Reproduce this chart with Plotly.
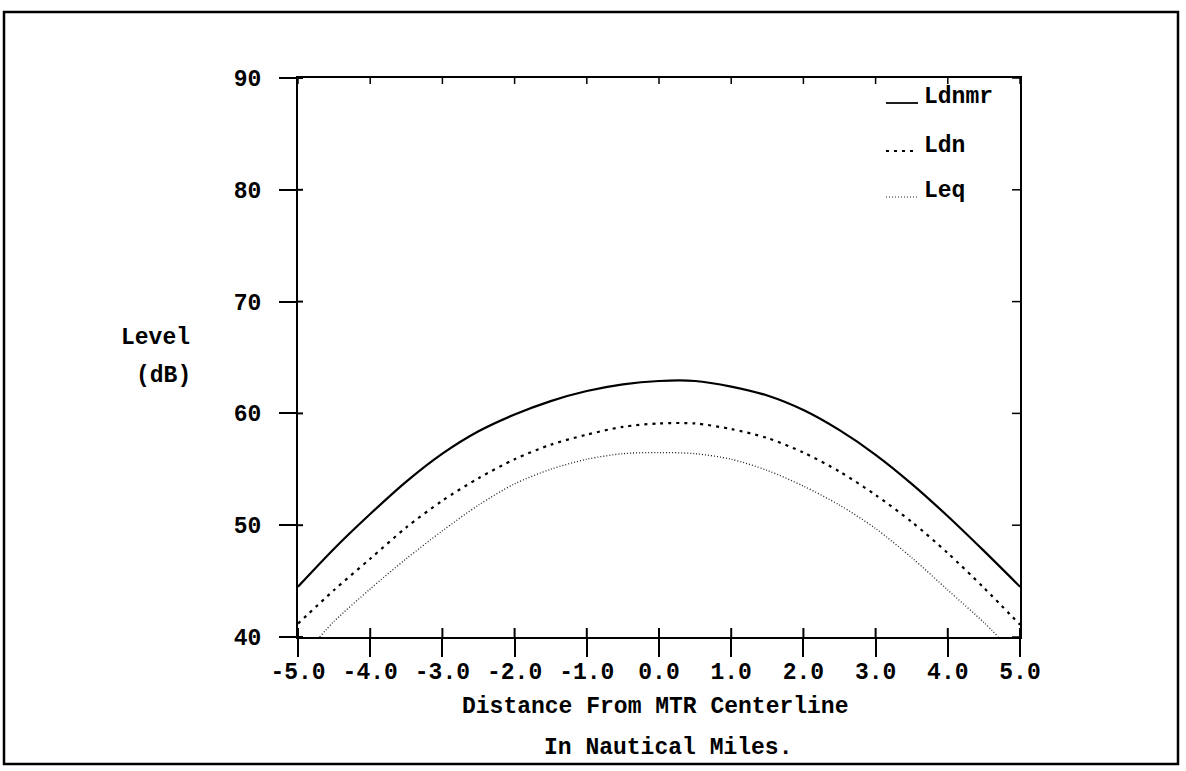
import plotly.graph_objects as go

# ---- data ----
distance = [-5.0, -4.5, -4.0, -3.5, -3.0, -2.5, -2.0, -1.5, -1.0, -0.5, 0.0,
            0.5, 1.0, 1.5, 2.0, 2.5, 3.0, 3.5, 4.0, 4.5, 5.0]
ldnmr = [44.5, 47.9, 51.0, 53.9, 56.4, 58.4, 59.9, 61.1, 62.0, 62.6, 62.9,
         62.9, 62.4, 61.6, 60.3, 58.5, 56.3, 53.7, 50.8, 47.7, 44.5]
ldn = [41.2, 44.2, 47.0, 49.8, 52.2, 54.2, 55.9, 57.2, 58.1, 58.8, 59.1,
       59.1, 58.6, 57.8, 56.5, 54.8, 52.7, 50.3, 47.5, 44.4, 41.1]
leq_x = [-4.7, -4.5, -4.0, -3.5, -3.0, -2.5, -2.0, -1.5, -1.0, -0.5, 0.0,
         0.5, 1.0, 1.5, 2.0, 2.5, 3.0, 3.5, 4.0, 4.5, 4.7]
leq = [40.0, 41.4, 44.3, 47.0, 49.5, 51.8, 53.7, 55.0, 55.9, 56.4, 56.5,
       56.4, 55.9, 54.9, 53.5, 51.8, 49.7, 47.1, 44.2, 41.3, 40.0]

x_ticks = [-5, -4, -3, -2, -1, 0, 1, 2, 3, 4, 5]
y_ticks = [40, 50, 60, 70, 80, 90]
series_names = ["Ldnmr", "Ldn", "Leq"]

# ---- layout geometry ----
W, H = 1186, 771
PL, PR, PT, PB = 298, 1020, 78, 637
FONT = "Liberation Mono"


def px(x):
    return (x - PL) / (PR - PL)


def py(y):
    return (PB - y) / (PB - PT)


styles = [
    dict(color="black", width=2.2, dash="solid"),
    dict(color="black", width=2.2, dash="3px,5px"),
    dict(color="#222", width=1.3, dash="1px,2px"),
]

fig = go.Figure()
fig.add_trace(go.Scatter(x=distance, y=ldnmr, mode="lines", name=series_names[0],
                         line=dict(shape="spline", smoothing=0.8, **styles[0])))
fig.add_trace(go.Scatter(x=distance, y=ldn, mode="lines", name=series_names[1],
                         line=dict(shape="spline", smoothing=0.8, **styles[1])))
fig.add_trace(go.Scatter(x=leq_x, y=leq, mode="lines", name=series_names[2],
                         line=dict(shape="spline", smoothing=0.8, **styles[2])))

tickfont = dict(family=FONT, size=23, color="black", weight="bold")

fig.update_layout(
    width=W, height=H,
    margin=dict(l=PL, r=W - PR, t=PT, b=H - PB, autoexpand=False),
    paper_bgcolor="white", plot_bgcolor="white",
    showlegend=False,
    xaxis=dict(range=[-5, 5], tickvals=x_ticks, ticktext=[f"{v:.1f}" for v in x_ticks],
               ticks="outside", ticklen=18, tickwidth=2, tickcolor="black",
               showline=True, linewidth=2, linecolor="black", mirror=True,
               showgrid=False, zeroline=False, tickfont=tickfont,
               ticklabelstandoff=-6),
    yaxis=dict(range=[40, 90], tickvals=y_ticks,
               ticks="outside", ticklen=17, tickwidth=2, tickcolor="black",
               showline=True, linewidth=2, linecolor="black", mirror=True,
               showgrid=False, zeroline=False, tickfont=tickfont,
               ticklabelstandoff=13),
)

# inner parts of the tick marks (crossing ticks, plus inward ticks on top/right)
for xv in x_ticks:
    fig.add_shape(type="line", xref="x", yref="paper", x0=xv, x1=xv,
                  y0=0, y1=9 / (PB - PT), line=dict(color="black", width=2))
    fig.add_shape(type="line", xref="x", yref="paper", x0=xv, x1=xv,
                  y0=1, y1=1 - 6 / (PB - PT), line=dict(color="black", width=1.5))
for yv in y_ticks:
    fig.add_shape(type="line", xref="paper", yref="y", x0=0, x1=5 / (PR - PL),
                  y0=yv, y1=yv, line=dict(color="black", width=2))
    fig.add_shape(type="line", xref="paper", yref="y", x0=1, x1=1 - 8 / (PR - PL),
                  y0=yv, y1=yv, line=dict(color="black", width=1.5))

labfont = dict(family=FONT, size=23, color="black", weight="bold")

# outer border
fig.add_shape(type="rect", xref="paper", yref="paper",
              x0=px(4), x1=px(1178), y0=py(764), y1=py(12),
              line=dict(color="black", width=2.5))

annos = [
    ("Level", 155, 338, "center"),
    ("(dB)", 163, 376, "center"),
    ("Distance From MTR Centerline", 655, 707, "center"),
    ("In Nautical Miles.", 668, 748, "center"),
]
for text, xx, yy, al in annos:
    fig.add_annotation(text=text, xref="paper", yref="paper", x=px(xx), y=py(yy),
                       xanchor=al, yanchor="middle", showarrow=False, font=labfont)

# legend (custom, in the upper right corner)
leg_y_text = [97, 146, 191]
leg_y_line = [103, 151, 197]
for name, st, yt, yl in zip(series_names, styles, leg_y_text, leg_y_line):
    fig.add_shape(type="line", xref="paper", yref="paper",
                  x0=px(886), x1=px(918), y0=py(yl), y1=py(yl),
                  line=dict(color=st["color"], width=st["width"] * 0.8, dash=st["dash"]))
    fig.add_annotation(text=name, xref="paper", yref="paper", x=px(922), y=py(yt),
                       xanchor="left", yanchor="middle", showarrow=False, font=labfont)

fig.write_html("out.html", config={"displayModeBar": False},
               post_script="document.body.style.margin='0px';")
